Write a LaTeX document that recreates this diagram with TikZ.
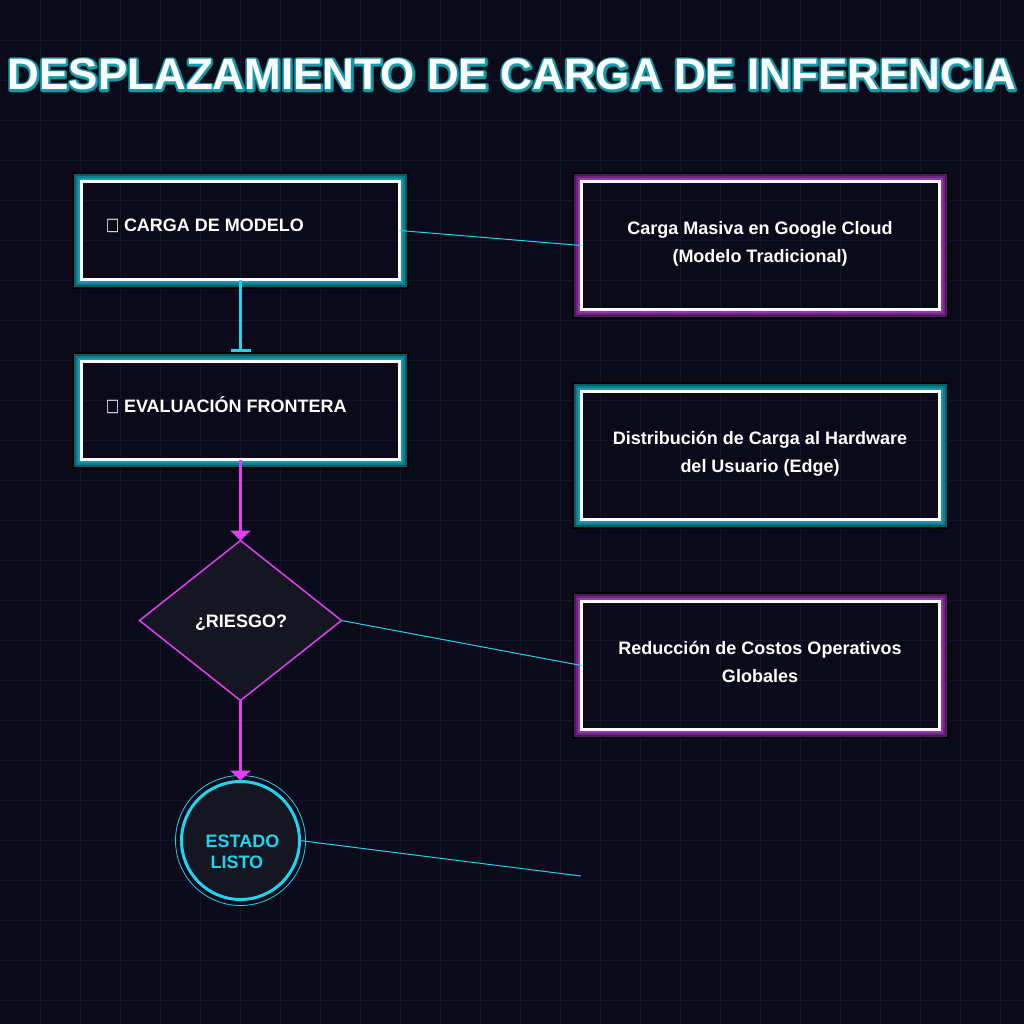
\documentclass[tikz,border=0pt]{standalone}
\usepackage{fontspec}
\setmainfont{Liberation Sans}
\newfontfamily\symfont{DejaVu Sans}
\usetikzlibrary{arrows.meta,shapes.geometric}
\definecolor{bgc}{HTML}{0A0A1A}
\definecolor{gridc}{HTML}{14142A}
\definecolor{cy}{HTML}{22D3EE}
\definecolor{mg}{HTML}{E040F0}
\definecolor{panel}{HTML}{161622}
\definecolor{ca}{HTML}{0A5A68}
\definecolor{cb}{HTML}{0F7F8F}
\definecolor{cc}{HTML}{1599AB}
\definecolor{pa}{HTML}{4A1A5E}
\definecolor{pb}{HTML}{6F2683}
\definecolor{pc}{HTML}{9A35B0}
\newcommand{\titletext}{DESPLAZAMIENTO DE CARGA DE INFERENCIA}
\newcommand{\strokelayer}[3]{\rlap{\special{pdf:code 1 j 1 Tr #1 w}\color{#2}#3\special{pdf:code 0 Tr 1 w 0 j}}}
\newcommand{\frames}[4]{%
  \foreach \o/\c in {8.5/black,6.5/#2,4.5/#3,2.5/#4}
    \draw[line width=2pt,draw=\c] ([shift={(-\o,-\o)}]#1.north west) rectangle ([shift={(\o,\o)}]#1.south east);}
\newcommand{\tofu}{\makebox[18pt][l]{\symfont\mdseries\fontsize{14}{14}\selectfont\raisebox{1pt}{\scalebox{1}[1.25]{□}}}}
\newcommand{\firstl}{\rule{0pt}{14pt}}
\newcommand{\lastl}{\rule[-5pt]{0pt}{5pt}}
\tikzset{
  x=1pt,y=-1pt,
  boxbase/.style={draw=white,line width=3pt,inner sep=0pt,outer sep=0pt,rectangle},
  leftbox/.style={boxbase,minimum width=318pt,minimum height=98pt},
  rightbox/.style={boxbase,minimum width=358pt,minimum height=128pt},
  boxtext/.style={text=white,font=\bfseries\fontsize{18}{28}\selectfont,inner sep=0pt,outer sep=0pt},
  thin link/.style={draw=cy,line width=1pt},
  cyan link/.style={draw=cy,line width=3pt},
  mag link/.style={draw=mg,line width=3pt},
}
\begin{document}
\begin{tikzpicture}
\useasboundingbox (0,0) rectangle (1024,1024);
\fill[bgc] (0,0) rectangle (1024,1024);
\foreach \g in {40,80,...,1000}{
  \draw[gridc,line width=1pt] (\g.5,0) -- (\g.5,1024);
  \draw[gridc,line width=1pt] (0,\g.5) -- (1024,\g.5);
}
\node[anchor=base,inner sep=0pt,font=\bfseries\fontsize{44}{50}\selectfont,text=white] (title) at (512,90)
  {\strokelayer{6.5}{black}{\titletext}\strokelayer{5}{ca}{\titletext}\strokelayer{3.6}{cc}{\titletext}\titletext};

\node[leftbox] (b1) at (240.5,230.5) {};
\node[leftbox] (b2) at (240.5,410.5) {};
\node[rightbox] (r1) at (760.5,245.5) {};
\node[rightbox] (r2) at (760.5,455.5) {};
\node[rightbox] (r3) at (760.5,665.5) {};
\frames{b1}{ca}{cb}{cc}
\frames{b2}{ca}{cb}{cc}
\frames{r1}{pa}{pb}{pc}
\frames{r2}{ca}{cb}{cc}
\frames{r3}{pa}{pb}{pc}

\node[boxtext,anchor=base west] (t1) at (106,232) {\tofu CARGA DE MODELO};
\node[boxtext,anchor=base west] (t2) at (106,412) {\tofu EVALUACIÓN FRONTERA};
\node[boxtext,align=center] (t3) at (760,244) {\firstl Carga Masiva en Google Cloud\\(Modelo Tradicional)\lastl};
\node[boxtext,align=center] (t4) at (760,454) {\firstl Distribución de Carga al Hardware\\del Usuario (Edge)\lastl};
\node[boxtext,align=center] (t5) at (760,664) {\firstl Reducción de Costos Operativos\\Globales\lastl};

\node[diamond,draw=mg,fill=panel,line width=1.5pt,aspect=1.26,minimum width=202pt,minimum height=160pt,inner sep=0pt,outer sep=0pt] (d) at (240.5,620.5) {};
\node[boxtext,anchor=base] (dt) at (241,627) {¿RIESGO?};

\node[circle,draw=cy,fill=panel,line width=3pt,minimum size=118pt,inner sep=0pt,outer sep=0pt] (c) at (240.5,840.5) {};
\draw[cy,line width=0.8pt] (c) circle (65);
\node[boxtext,text=cy,anchor=base west] (c1) at (205.7,847) {ESTADO};
\node[boxtext,text=cy,anchor=base west] (c2) at (210.5,868.5) {LISTO};

\coordinate (free) at (581,876);
\draw[thin link] (b1.east) -- (r1.west);
\draw[thin link] (d.east) -- (r3.west);
\draw[thin link] (c.east) -- (free);
\draw[cyan link,-{Bar[width=20pt,length=2pt]},shorten >=10pt] (b1.south) -- (b2.north);
\draw[mag link,-{Triangle[width=20pt,length=10pt]}] (b2.south) -- (d.north);
\draw[mag link,-{Triangle[width=20pt,length=10pt]},shorten >=1pt] (d.south) -- (c.north);
\end{tikzpicture}
\end{document}
